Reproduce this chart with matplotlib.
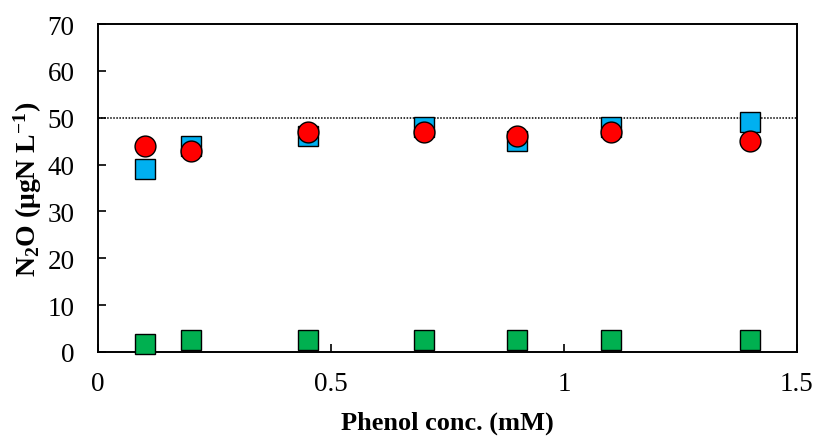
import matplotlib
matplotlib.use("Agg")
import matplotlib.pyplot as plt

# N2O measured at each phenol concentration
phenol = [0.1, 0.2, 0.45, 0.7, 0.9, 1.1, 1.4]
n2o_blue = [39, 44, 46, 48, 45, 48, 49]
n2o_red = [44, 43, 47, 47, 46, 47, 45]
n2o_green = [1.8, 2.5, 2.5, 2.5, 2.5, 2.5, 2.5]
reference_level = 50

x_ticks = [0, 0.5, 1, 1.5]
x_tick_labels = ["0", "0.5", "1", "1.5"]
y_ticks = [0, 10, 20, 30, 40, 50, 60, 70]

plt.rcParams["font.family"] = ["Liberation Serif", "DejaVu Serif"]
plt.rcParams["mathtext.fontset"] = "custom"
plt.rcParams["mathtext.rm"] = "Liberation Serif"
plt.rcParams["mathtext.bf"] = "Liberation Serif:bold"
plt.rcParams["mathtext.default"] = "bf"

fig = plt.figure(figsize=(8.18, 4.39), dpi=100)
ax = fig.add_axes([0.1198, 0.196, 0.8545, 0.747])

ax.plot([0, 1.5], [reference_level, reference_level], color="black",
        linestyle=(0, (1, 1)), linewidth=1.1, zorder=1)

ax.plot(phenol, n2o_blue, linestyle="none", marker="s", markersize=14.5,
        markerfacecolor="#00B0F0", markeredgecolor="black", markeredgewidth=1,
        zorder=3, clip_on=False)
ax.plot(phenol, n2o_red, linestyle="none", marker="o", markersize=15,
        markerfacecolor="#FF0000", markeredgecolor="black", markeredgewidth=1,
        zorder=4, clip_on=False)
ax.plot(phenol, n2o_green, linestyle="none", marker="s", markersize=14.5,
        markerfacecolor="#00B050", markeredgecolor="black", markeredgewidth=1,
        zorder=3, clip_on=False)

ax.set_xlim(0, 1.5)
ax.set_ylim(0, 70)
ax.set_xticks(x_ticks)
ax.set_xticklabels(x_tick_labels)
ax.set_yticks(y_ticks)

for side in ["left", "bottom", "top", "right"]:
    ax.spines[side].set_linewidth(1.4)
ax.tick_params(axis="both", direction="in", length=5.5, width=1.2,
               labelsize=19.5)
ax.tick_params(axis="x", pad=14)
ax.tick_params(axis="y", pad=17)

ax.set_xlabel("Phenol conc. (mM)", fontsize=19, fontweight="bold", labelpad=10)
ax.set_ylabel("N$_2$O (μgN L$^{-1}$)", fontsize=20, fontweight="bold", labelpad=2)

fig.savefig("out.png", dpi=100)
